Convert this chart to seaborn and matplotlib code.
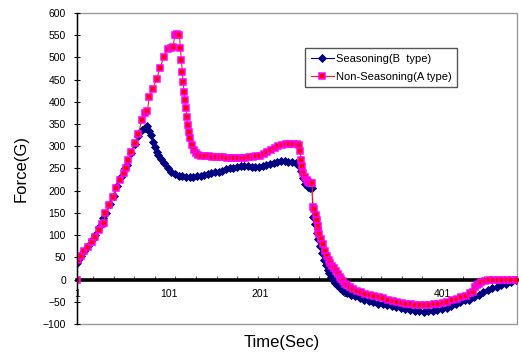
import matplotlib
matplotlib.use("Agg")
import matplotlib.pyplot as plt
import matplotlib.patches as mpatches
from matplotlib.ticker import MultipleLocator, FixedLocator
import seaborn as sns

# ---- data (time in samples, force in G) ----
time_b = [1, 2, 5, 9, 13, 17, 21, 25, 29, 33, 37, 41, 45, 49, 53, 56, 60, 64, 68, 72,
          75, 78, 80, 82, 84, 86, 88, 90, 93, 96, 100, 104, 108, 112, 116, 120, 124, 128,
          132, 136, 140, 144, 148, 152, 156, 160, 164, 168, 172, 176, 180, 184, 188, 192,
          196, 200, 204, 208, 212, 216, 220, 224, 228, 232, 236, 240, 243, 246, 248, 250,
          253, 256, 258, 259, 261, 263, 265, 267, 269, 271, 273, 275, 277, 279, 281, 283,
          285, 288, 292, 296, 300, 305, 310, 315, 320, 325, 330, 335, 340, 345, 350, 355,
          360, 365, 370, 375, 380, 385, 390, 395, 400, 405, 410, 415, 420, 425, 430, 435,
          440, 445, 450, 455, 460, 465, 470, 475, 478, 481]
force_b = [38, 43, 52, 65, 76, 88, 100, 118, 138, 150, 170, 188, 210, 230, 250, 258, 285,
           305, 322, 336, 342, 346, 335, 325, 310, 298, 288, 280, 272, 262, 250, 243, 238,
           234, 232, 230, 230, 231, 232, 233, 235, 237, 239, 241, 243, 245, 248, 250, 252,
           254, 256, 256, 255, 254, 254, 254, 255, 257, 260, 263, 265, 266, 266, 265, 264,
           262, 258, 245, 228, 215, 208, 207, 206, 141, 125, 105, 92, 75, 60, 45, 32, 22,
           14, 6, 0, -8, -13, -19, -25, -30, -34, -38, -42, -45, -48, -51, -54, -56, -58,
           -60, -62, -64, -66, -68, -70, -71, -72, -71, -70, -68, -66, -63, -60, -56, -51,
           -45, -45, -40, -34, -28, -23, -19, -16, -13, -9, -5, -2, 0]

time_a = [1, 2, 5, 9, 13, 17, 21, 25, 28, 30, 32, 36, 40, 44, 48, 52, 55, 57, 60, 64, 68,
          72, 75, 78, 80, 84, 88, 92, 96, 100, 104, 106, 108, 110, 113, 114, 115, 116, 117,
          118, 119, 120, 121, 122, 123, 125, 127, 129, 131, 133, 137, 141, 145, 149, 153,
          157, 161, 165, 169, 173, 177, 181, 185, 189, 193, 197, 201, 205, 209, 213, 217,
          221, 225, 229, 233, 237, 241, 244, 245, 246, 247, 248, 250, 252, 254, 256, 258,
          259, 260, 262, 263, 264, 265, 266, 268, 270, 272, 274, 276, 278, 280, 282, 284,
          286, 288, 290, 292, 294, 296, 299, 303, 307, 311, 316, 321, 326, 331, 336, 341,
          346, 351, 356, 361, 366, 371, 376, 381, 386, 391, 396, 401, 406, 411, 416, 421,
          426, 431, 434, 436, 438, 440, 443, 447, 451, 456, 461, 466, 471, 476, 481]
force_a = [0, 43, 52, 64, 74, 85, 96, 112, 125, 127, 150, 168, 185, 205, 224, 240, 251, 268,
           287, 307, 328, 360, 375, 380, 410, 430, 452, 477, 502, 519, 522, 524, 551, 553,
           551, 521, 495, 467, 445, 422, 405, 386, 366, 348, 333, 318, 302, 292, 284, 280,
           278, 277, 277, 276, 276, 275, 275, 274, 274, 273, 273, 273, 274, 275, 276, 277,
           279, 283, 288, 292, 297, 301, 303, 304, 305, 305, 304, 303, 290, 270, 255, 240,
           230, 224, 220, 218, 217, 163, 158, 145, 135, 120, 110, 103, 92, 80, 65, 52, 43,
           37, 31, 26, 20, 13, 6, 2, -4, -9, -12, -17, -21, -26, -29, -32, -35, -38, -40,
           -42, -45, -48, -50, -52, -54, -56, -57, -58, -58, -57, -56, -54, -53, -51, -47,
           -43, -40, -36, -31, -28, -17, -13, -9, -6, -4, -2, -1, 0, 0, 0, 0, 0]

label_b = "Seasoning(B  type)"
label_a = "Non-Seasoning(A type)"
x_tick_labels = [1, 101, 201, 301, 401]
y_ticks = list(range(-100, 601, 50))

plt.rcParams['font.family'] = ['Liberation Sans', 'DejaVu Sans']

fig = plt.figure(figsize=(5.19, 3.53), dpi=100)
ax = fig.add_axes([0.1484, 0.0822, 0.8477, 0.881])

sns.lineplot(ax=ax, x=time_b, y=force_b, color='#000080', lw=0.8,
             marker='D', markersize=3.6, markerfacecolor='#000080',
             markeredgecolor='#000080', markeredgewidth=0.6, label=label_b, zorder=3)
sns.lineplot(ax=ax, x=time_a, y=force_a, color='#FF2020', lw=0.8,
             marker='s', markersize=4.6, markerfacecolor='#FF0000',
             markeredgecolor='#FF00FF', markeredgewidth=1.1, label=label_a, zorder=4)

ax.set_xlim(1, 482)
ax.set_ylim(-100, 600)

# plot-area frame
for s in ['top', 'right']:
    ax.spines[s].set_visible(False)
ax.add_patch(mpatches.Rectangle((0, 0), 1, 1, transform=ax.transAxes, fill=False,
                                edgecolor='#9a9a9a', lw=1, zorder=1, clip_on=False))
ax.spines['left'].set_color('black')
ax.spines['left'].set_linewidth(1)
ax.spines['left'].set_zorder(5)
ax.spines['bottom'].set_position(('data', 0))
ax.spines['bottom'].set_color('black')
ax.spines['bottom'].set_linewidth(2.6)
ax.spines['bottom'].set_zorder(2)

ax.xaxis.set_major_locator(FixedLocator(x_tick_labels))
ax.set_xticklabels([str(v) for v in x_tick_labels])
ax.xaxis.set_minor_locator(MultipleLocator(22.5, offset=18.5))
ax.tick_params(axis='x', which='major', length=0, pad=7, labelsize=7.5)
ax.tick_params(axis='x', which='minor', direction='in', length=3, width=0.8, color='#555555')

ax.set_yticks(y_ticks)
ax.tick_params(axis='y', direction='inout', length=4, width=0.8, pad=6, labelsize=7.5)

ax.set_xlabel('Time(Sec)', fontsize=12)
ax.set_ylabel('Force(G)', fontsize=12)
ax.xaxis.set_label_coords(0.465, -0.035)
ax.yaxis.set_label_coords(-0.11, 0.5)

ax.grid(False)
ax.legend(loc='upper left', bbox_to_anchor=(0.5877, 0.864), bbox_transform=fig.transFigure,
          borderaxespad=0, fontsize=8, frameon=True, fancybox=False, framealpha=1,
          edgecolor='#555555', handlelength=2.1, handletextpad=0.2, labelspacing=0.75,
          borderpad=0.5)
ax.get_legend().get_frame().set_linewidth(1)

fig.savefig('out.png', dpi=100)
